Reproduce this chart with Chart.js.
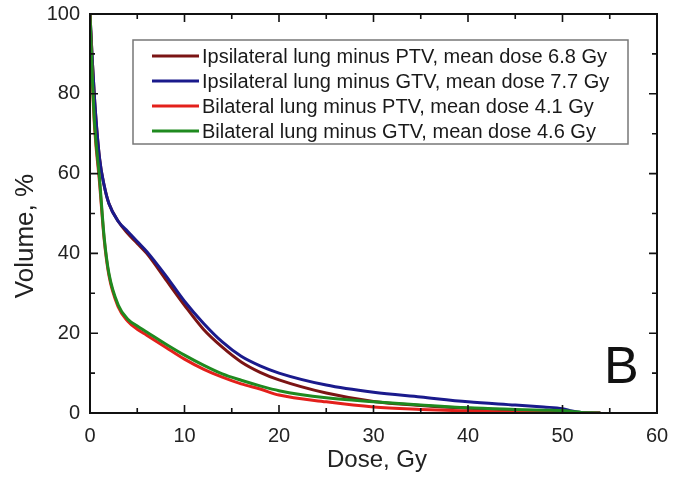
<!DOCTYPE html>
<html>
<head>
<meta charset="utf-8">
<script src="https://cdn.jsdelivr.net/npm/chart.js@4"></script>
<style>
  html, body { margin: 0; padding: 0; background: #fff; }
  #wrap { width: 694px; height: 478px; }
</style>
</head>
<body>
<div id="wrap"><canvas id="dvh"></canvas></div>
<script>
// dose axis points (Gy)
const dose = [0, 0.25, 0.5, 1, 1.5, 2, 3, 4, 5, 6, 8, 10, 12, 14, 16, 18, 20, 25, 30, 35, 40, 45, 48, 50, 51, 52, 53, 54];

// volume, % for each structure
const ipsiPTV  = [100, 88, 78, 64, 57, 52.5, 48, 45, 42.5, 40, 33.5, 27, 21, 16.5, 12.8, 10.2, 8.3, 5, 2.9, 1.9, 1.2, 0.7, 0.4, 0.2, 0.1, 0, 0, 0];
const ipsiGTV  = [100, 88, 78, 64, 57, 52.5, 48, 45.5, 43, 40.5, 34.5, 28, 22.5, 17.8, 14.2, 11.8, 10, 7, 5.2, 4, 2.8, 2, 1.5, 1.1, 0.5, 0.1, 0, 0];
const bilatPTV = [100, 83, 71, 58, 43.5, 34.5, 26.5, 23, 21, 19.5, 16.5, 13.5, 11, 9, 7.3, 6, 4.5, 2.8, 1.5, 0.9, 0.5, 0.2, 0.1, 0, 0, 0, 0, 0];
const bilatGTV = [100, 84, 72, 59, 44, 35, 27, 23.5, 21.8, 20.3, 17.3, 14.5, 12, 9.8, 8.2, 6.8, 5.6, 3.8, 2.8, 2, 1.3, 0.9, 0.7, 0.6, 0.4, 0.15, 0.05, 0];

const seriesNames = [
    'Ipsilateral lung minus PTV, mean dose 6.8 Gy',
    'Ipsilateral lung minus GTV, mean dose 7.7 Gy',
    'Bilateral lung minus PTV, mean dose 4.1 Gy',
    'Bilateral lung minus GTV, mean dose 4.6 Gy'
];
const seriesColors = ['#7b1414', '#1a1a8c', '#e3201b', '#1f8a1f'];
const seriesValues = [ipsiPTV, ipsiGTV, bilatPTV, bilatGTV];
const drawOrder = [3, 2, 1, 0];

const xTicks = [0, 10, 20, 30, 40, 50, 60];
const yTicks = [0, 20, 40, 60, 80, 100];

const fontFamily = '"Liberation Sans", Arial, sans-serif';

function toPoints(values) {
    return dose.map((d, i) => ({ x: d, y: values[i] }));
}

// frame, inward ticks on all four sides, axis titles, legend box and panel letter
const framePlugin = {
    id: 'frame',
    afterDraw(chart) {
        const ctx = chart.ctx;
        const a = chart.chartArea;
        const xs = chart.scales.x, ys = chart.scales.y;
        ctx.save();
        ctx.strokeStyle = '#111';
        ctx.lineWidth = 2;
        ctx.strokeRect(a.left, a.top, a.right - a.left, a.bottom - a.top);

        ctx.lineWidth = 1.6;
        ctx.beginPath();
        for (let v = 5; v < 60; v += 5) {
            const px = xs.getPixelForValue(v);
            const len = v % 10 === 0 ? 8 : 5;
            ctx.moveTo(px, a.bottom); ctx.lineTo(px, a.bottom - len);
            ctx.moveTo(px, a.top); ctx.lineTo(px, a.top + len);
        }
        for (let v = 10; v < 100; v += 10) {
            const py = ys.getPixelForValue(v);
            const len = v % 20 === 0 ? 8 : 5;
            ctx.moveTo(a.left, py); ctx.lineTo(a.left + len, py);
            ctx.moveTo(a.right, py); ctx.lineTo(a.right - len, py);
        }
        ctx.stroke();

        // axis titles
        ctx.fillStyle = '#222';
        ctx.textAlign = 'center';
        ctx.textBaseline = 'middle';
        ctx.font = '24px ' + fontFamily;
        ctx.fillText('Dose, Gy', 377, 460);
        ctx.save();
        ctx.translate(26, 236);
        ctx.rotate(-Math.PI / 2);
        ctx.font = '26px ' + fontFamily;
        ctx.fillText('Volume, %', 0, 0);
        ctx.restore();

        // legend
        const box = { left: 133, top: 40, right: 628, bottom: 144 };
        ctx.strokeStyle = '#777';
        ctx.lineWidth = 1.5;
        ctx.strokeRect(box.left, box.top, box.right - box.left, box.bottom - box.top);
        ctx.font = '20px ' + fontFamily;
        ctx.textBaseline = 'middle';
        ctx.textAlign = 'left';
        chart.data.datasets.forEach((ds, i) => {
            const y = 56 + i * 25;
            ctx.strokeStyle = ds.borderColor;
            ctx.lineWidth = 3;
            ctx.beginPath();
            ctx.moveTo(152, y); ctx.lineTo(199, y);
            ctx.stroke();
            ctx.fillStyle = '#1a1a1a';
            ctx.fillText(ds.label, 202, y + 1);
        });

        ctx.font = '52px ' + fontFamily;
        ctx.textBaseline = 'alphabetic';
        ctx.fillStyle = '#111';
        ctx.fillText('B', 604, 383);
        ctx.restore();
    }
};

const ctx = document.getElementById('dvh').getContext('2d');
new Chart(ctx, {
    type: 'line',
    data: {
        datasets: seriesNames.map((name, i) => ({
            label: name,
            data: toPoints(seriesValues[i]),
            borderColor: seriesColors[i],
            backgroundColor: seriesColors[i],
            borderWidth: 3,
            pointRadius: 0,
            cubicInterpolationMode: 'monotone',
            fill: false,
            order: drawOrder[i]
        }))
    },
    options: {
        responsive: true,
        maintainAspectRatio: false,
        animation: false,
        layout: { padding: { top: 13, right: 37, left: 0, bottom: 0 } },
        plugins: {
            legend: { display: false },
            tooltip: { enabled: false }
        },
        scales: {
            x: {
                type: 'linear',
                min: 0,
                max: 60,
                afterBuildTicks: s => { s.ticks = xTicks.map(v => ({ value: v })); },
                afterFit: s => { s.height = 65; },
                grid: { display: false },
                border: { display: false },
                ticks: { color: '#222', padding: 3, font: { size: 20, family: fontFamily } },
                title: { display: false }
            },
            y: {
                min: 0,
                max: 100,
                afterBuildTicks: s => { s.ticks = yTicks.map(v => ({ value: v })); },
                afterFit: s => { s.width = 90; },
                grid: { display: false },
                border: { display: false },
                ticks: { color: '#222', padding: 2, font: { size: 20, family: fontFamily } },
                title: { display: false }
            }
        }
    },
    plugins: [framePlugin]
});
</script>
</body>
</html>
